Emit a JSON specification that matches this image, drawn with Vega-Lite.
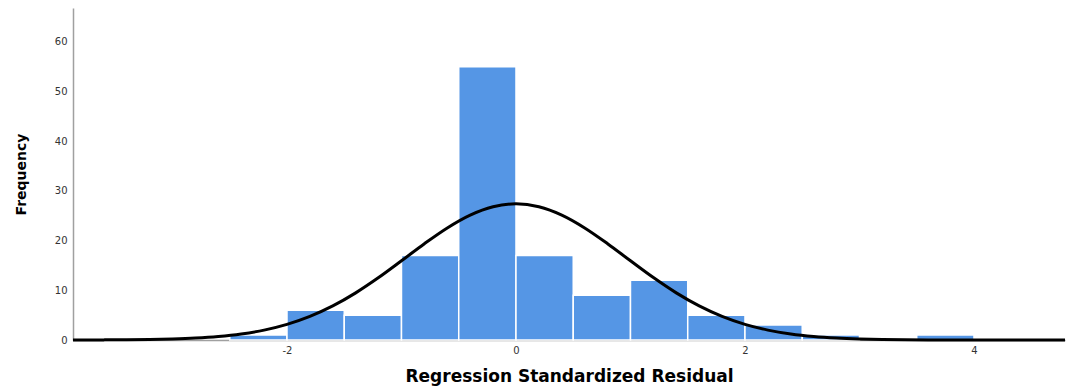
{
  "$schema": "https://vega.github.io/schema/vega-lite/v6.json",
  "width": 992,
  "height": 332,
  "autosize": {"type": "none"},
  "padding": {"left": 73, "top": 8, "right": 5, "bottom": 47},
  "background": "white",
  "config": {
    "view": {"stroke": null},
    "axis": {"labelFont": "DejaVu Sans", "labelFontSize": 10, "labelColor": "#333333", "titleFont": "DejaVu Sans", "titleColor": "#000000", "grid": false, "ticks": false, "domainColor": "#a0a0a0", "domainWidth": 1.5}
  },
  "datasets": {
    "bars": [
      {"start": -2.5, "end": -2.0, "count": 1},
      {"start": -2.0, "end": -1.5, "count": 6},
      {"start": -1.5, "end": -1.0, "count": 5},
      {"start": -1.0, "end": -0.5, "count": 17},
      {"start": -0.5, "end": 0.0, "count": 55},
      {"start": 0.0, "end": 0.5, "count": 17},
      {"start": 0.5, "end": 1.0, "count": 9},
      {"start": 1.0, "end": 1.5, "count": 12},
      {"start": 1.5, "end": 2.0, "count": 5},
      {"start": 2.0, "end": 2.5, "count": 3},
      {"start": 2.5, "end": 3.0, "count": 1},
      {"start": 3.5, "end": 4.0, "count": 1}
    ],
    "curve": [
      {"x": -3.869, "y": 0.0083},
      {"x": -3.6, "y": 0.0246},
      {"x": -3.4, "y": 0.052},
      {"x": -3.2, "y": 0.107},
      {"x": -3.0, "y": 0.21},
      {"x": -2.8, "y": 0.393},
      {"x": -2.6, "y": 0.705},
      {"x": -2.4, "y": 1.21},
      {"x": -2.2, "y": 1.99},
      {"x": -2.0, "y": 3.14},
      {"x": -1.8, "y": 4.74},
      {"x": -1.6, "y": 6.85},
      {"x": -1.4, "y": 9.48},
      {"x": -1.2, "y": 12.56},
      {"x": -1.0, "y": 15.94},
      {"x": -0.8, "y": 19.38},
      {"x": -0.6, "y": 22.55},
      {"x": -0.4, "y": 25.13},
      {"x": -0.2, "y": 26.81},
      {"x": 0.0, "y": 27.4},
      {"x": 0.2, "y": 26.81},
      {"x": 0.4, "y": 25.13},
      {"x": 0.6, "y": 22.55},
      {"x": 0.8, "y": 19.38},
      {"x": 1.0, "y": 15.94},
      {"x": 1.2, "y": 12.56},
      {"x": 1.4, "y": 9.48},
      {"x": 1.6, "y": 6.85},
      {"x": 1.8, "y": 4.74},
      {"x": 2.0, "y": 3.14},
      {"x": 2.2, "y": 1.99},
      {"x": 2.4, "y": 1.21},
      {"x": 2.6, "y": 0.705},
      {"x": 2.8, "y": 0.393},
      {"x": 3.0, "y": 0.21},
      {"x": 3.2, "y": 0.107},
      {"x": 3.4, "y": 0.052},
      {"x": 3.6, "y": 0.0246},
      {"x": 3.8, "y": 0.011},
      {"x": 4.0, "y": 0.0047},
      {"x": 4.4, "y": 0.0008},
      {"x": 4.795, "y": 0.0001}
    ]
  },
  "layer": [
    {
      "data": {"name": "bars"},
      "mark": {"type": "bar", "color": "#5596e5", "stroke": "white", "strokeWidth": 1.5},
      "encoding": {
        "x": {"field": "start", "type": "quantitative", "scale": {"domain": [-3.869, 4.795], "nice": false, "zero": false},
              "axis": {"values": [-2, 0, 2, 4], "labelExpr": "datum.value + ''", "labelPadding": 5, "title": "Regression Standardized Residual", "titleFontSize": 17, "titleFontWeight": "bold", "titlePadding": 13}},
        "x2": {"field": "end"},
        "y": {"field": "count", "type": "quantitative", "scale": {"domain": [0, 66.8], "nice": false},
              "axis": {"values": [0, 10, 20, 30, 40, 50, 60], "labelPadding": 6, "title": "Frequency", "titleFontSize": 14, "titleFontWeight": "bold", "titlePadding": 26}},
        "y2": {"datum": 0}
      }
    },
    {
      "data": {"name": "curve"},
      "mark": {"type": "line", "color": "black", "strokeWidth": 3, "interpolate": "monotone"},
      "encoding": {
        "x": {"field": "x", "type": "quantitative"},
        "y": {"field": "y", "type": "quantitative"}
      }
    }
  ]
}
